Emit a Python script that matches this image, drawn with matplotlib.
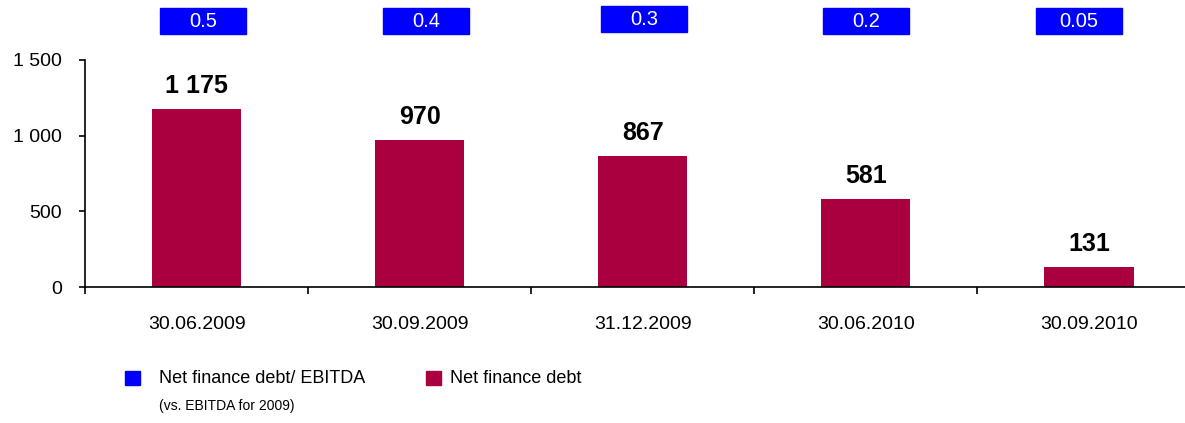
import matplotlib
import matplotlib.pyplot as plt
import numpy as np

matplotlib.rc('font', family=['Liberation Sans', 'DejaVu Sans'])

# data
dates = ['30.06.2009', '30.09.2009', '31.12.2009', '30.06.2010', '30.09.2010']
debt = [1175, 970, 867, 581, 131]
ratio = ['0.5', '0.4', '0.3', '0.2', '0.05']

# small shifts of the ratio boxes (as in the original slide)
box_dx = [0.03, 0.03, 0.005, 0.0, -0.045]
box_top = [8, 8, 6, 8, 8]   # px from top

red = '#AB0040'
blue = '#0000FF'
W, H = 1185, 423
unit = 223.1   # px per category

def fmt(v):
    return '{:,}'.format(int(v)).replace(',', ' ')

fig = plt.figure(figsize=(W / 100, H / 100), dpi=100, facecolor='w')
ax = fig.add_axes([85 / W, 1 - 287 / H, 1 - 85 / W, 227 / H])

x = np.arange(len(dates))
ax.bar(x, debt, width=0.4, color=red)

for xi, v in zip(x, debt):
    ax.annotate(fmt(v), (xi, v), xytext=(0, 8), textcoords='offset points',
                ha='center', va='bottom', fontsize=18, fontweight='bold')

# ratio boxes above the bars
for xi, r, dx, top in zip(x, ratio, box_dx, box_top):
    cx = 85 + (xi + dx + 0.5) * unit
    fig.patches.append(plt.Rectangle(((cx - 43) / W, 1 - (top + 26) / H), 86 / W, 26 / H,
                                     transform=fig.transFigure, color=blue))
    fig.text(cx / W, 1 - (top + 13.5) / H, r, ha='center', va='center',
             color='white', fontsize=14.5)

ax.set_ylim(0, 1500)
ax.set_yticks([0, 500, 1000, 1500])
ax.set_yticklabels([fmt(v) for v in [0, 500, 1000, 1500]], fontsize=14)
ax.set_xticks(x)
ax.set_xticklabels(dates, fontsize=14)
ax.set_xticks(np.arange(-0.5, 5, 1), minor=True)
ax.set_xlim(-0.5, (W - 85) / unit - 0.5)
ax.tick_params(axis='x', which='major', length=0, pad=21)
ax.tick_params(axis='x', which='minor', length=5, width=1.2)
ax.tick_params(axis='y', length=4.5, width=1.2, pad=12)

ax.spines['top'].set_visible(False)
ax.spines['right'].set_visible(False)
ax.spines['left'].set_linewidth(1.2)
ax.spines['bottom'].set_linewidth(1.2)

# legend drawn by hand
fig.patches.append(plt.Rectangle((125 / W, 1 - 385 / H), 15 / W, 14 / H,
                                 transform=fig.transFigure, color=blue))
fig.text(159 / W, 1 - 378 / H, 'Net finance debt/ EBITDA', fontsize=13, va='center')
fig.text(159 / W, 1 - 406 / H, '(vs. EBITDA for 2009)', fontsize=10, va='center')
fig.patches.append(plt.Rectangle((426 / W, 1 - 385 / H), 15 / W, 14 / H,
                                 transform=fig.transFigure, color=red))
fig.text(450 / W, 1 - 378 / H, 'Net finance debt', fontsize=13, va='center')

plt.savefig('out.png', dpi=100)
